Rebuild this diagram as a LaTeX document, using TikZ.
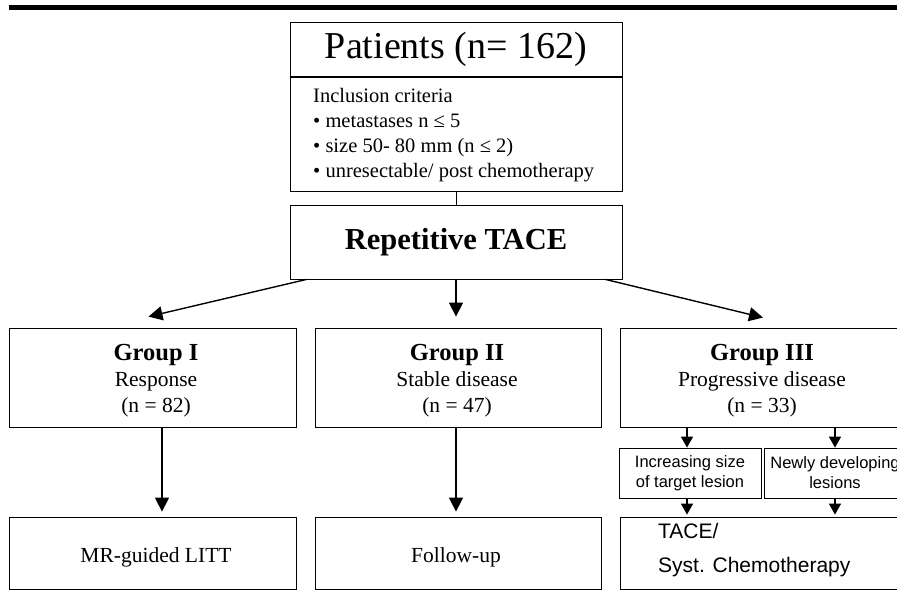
\documentclass[tikz,border=0pt]{standalone}
\usepackage{fontspec}
\setmainfont{Liberation Serif}
\newfontfamily\arialf{Liberation Sans}
\newcommand{\gtfont}{\bfseries\fontsize{24.5}{26}\selectfont}
\usetikzlibrary{arrows.meta}
\begin{document}
\begin{tikzpicture}[x=1pt,y=-1pt,
  box/.style={draw, line width=0.8pt, inner sep=0pt, align=center},
  arr/.style={-{Triangle[length=14pt,width=14pt]}, line width=1.4pt},
  sarr/.style={-{Triangle[length=11pt,width=12pt]}, line width=1.3pt},
  gtext/.style={align=center, inner sep=0pt, font=\fontsize{21.5}{26}\selectfont}]
\useasboundingbox (0,0) rectangle (897,591);
\clip (0,0) rectangle (897,591);
% top rule
\fill (9,5) rectangle (897,10);
% patients
\node[box, minimum width=332pt, minimum height=55pt, font=\fontsize{38}{40}\selectfont] (ptitle) at (456,49.5) {Patients (n= 162)};
\node[box, minimum width=332pt, minimum height=114pt] (pcrit) at (456,134) {};
\node[anchor=west, align=left, inner sep=0pt, font=\fontsize{20.5}{25}\selectfont] (crit) at (313,135) {Inclusion criteria\\• metastases n ≤ 5\\• size 50- 80 mm (n ≤ 2)\\• unresectable/ post chemotherapy};
\draw[line width=2pt] (pcrit.north west) -- (pcrit.north east);
% TACE
\node[box, minimum width=332pt, minimum height=74pt, font=\bfseries\fontsize{30.5}{32}\selectfont] (tace) at (456,242) {Repetitive TACE};
\draw[line width=1pt] (pcrit.south) -- (tace.north);
% groups
\node[box, minimum width=287pt, minimum height=99pt] (g1) at (152.5,377.5) {};
\node[box, minimum width=286pt, minimum height=99pt] (g2) at (458,377.5) {};
\node[box, minimum width=284pt, minimum height=99pt] (g3) at (762,377.5) {};
\node[gtext] (g1t) at (156,381) {{\gtfont Group I}\\Response\\(n = 82)};
\node[gtext] (g2t) at (457,381) {{\gtfont Group II}\\Stable disease\\(n = 47)};
\node[gtext] (g3t) at (762,381) {{\gtfont Group III}\\Progressive disease\\(n = 33)};
% sub boxes
\node[box, minimum width=142pt, minimum height=50pt, font=\arialf\fontsize{16.5}{20}\selectfont] (s1) at (690,473) {Increasing size\\of target lesion};
\node[box, minimum width=142pt, minimum height=50pt, font=\arialf\fontsize{16.5}{20}\selectfont] (s2) at (835,473) {Newly developing\\lesions};
% bottom boxes
\node[box, minimum width=287pt, minimum height=72pt] (b1) at (152.5,553) {};
\node[box, minimum width=286pt, minimum height=72pt] (b2) at (458,553) {};
\node[box, minimum width=284pt, minimum height=72pt] (b3) at (762,553) {};
\node[inner sep=0pt, font=\fontsize{21.5}{25}\selectfont] (b1t) at (156,557) {MR-guided LITT};
\node[inner sep=0pt, font=\fontsize{21.5}{25}\selectfont] (b2t) at (456,557) {Follow-up};
\node[anchor=west, align=left, inner sep=0pt, font=\arialf\fontsize{21}{34}\selectfont] (b3t) at (658,550) {TACE/\\Syst. Chemotherapy};
% arrows from TACE
\draw[arr] ([xshift=17pt]tace.south west) -- ([xshift=-4pt,yshift=11pt]g1.north);
\draw[arr] (tace.south) -- ([xshift=-2pt,yshift=11pt]g2.north);
\draw[arr] ([xshift=-17pt]tace.south east) -- ([xshift=1pt,yshift=10pt]g3.north);
% group arrows
\draw[arr, shorten >=5pt] ([xshift=9.5pt]g1.south) -- ([xshift=9.5pt]b1.north);
\draw[arr, shorten >=5pt] ([xshift=-2pt]g2.south) -- ([xshift=-2pt]b2.north);
\coordinate (s1c) at (687,0);
\draw[sarr] (s1c |- g3.south) -- (s1c |- s1.north);
\draw[sarr] (s2.north |- g3.south) -- (s2.north);
\draw[sarr, shorten >=2pt] (s1c |- s1.south) -- (s1c |- b3.north);
\draw[sarr, shorten >=2pt] (s2.south) -- (s2.south |- b3.north);
\end{tikzpicture}
\end{document}
